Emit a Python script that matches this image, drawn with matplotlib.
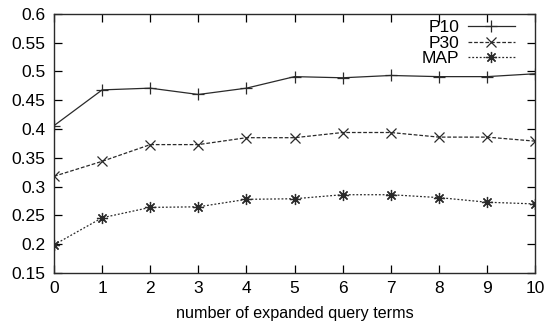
import matplotlib
matplotlib.use("Agg")
import matplotlib.pyplot as plt

plt.rcParams['font.family'] = ['Liberation Sans', 'DejaVu Sans']

terms = [0, 1, 2, 3, 4, 5, 6, 7, 8, 9, 10]
p10 = [0.406, 0.468, 0.471, 0.460, 0.471, 0.491, 0.489, 0.493, 0.491, 0.491, 0.496]
p30 = [0.318, 0.344, 0.373, 0.373, 0.385, 0.385, 0.394, 0.394, 0.386, 0.386, 0.379]
map_ = [0.199, 0.246, 0.264, 0.265, 0.278, 0.279, 0.286, 0.286, 0.281, 0.273, 0.270]
yticks = [0.15, 0.2, 0.25, 0.3, 0.35, 0.4, 0.45, 0.5, 0.55, 0.6]
ytick_labels = ['0.15', '0.2', '0.25', '0.3', '0.35', '0.4', '0.45', '0.5', '0.55', '0.6']


def main() -> None:
    fig = plt.figure(figsize=(5.46, 3.22), dpi=100)
    ax = fig.add_axes([0.099, 0.152, 0.881, 0.805])

    ax.plot(terms, p10, color='#2a2a2a', lw=0.9, marker='+', ms=9, mew=0.9, label='P10')
    ax.plot(terms, p30, color='#2a2a2a', lw=0.9, ls=(0, (3, 1.5)), marker='x', ms=7, mew=0.9, label='P30')
    ax.plot(terms, map_, color='#2a2a2a', lw=0.9, ls=(0, (1.5, 1.5)), marker=(8, 2, 0), ms=8, mew=0.9, label='MAP')

    ax.set_xlim(0, 10)
    ax.set_ylim(0.15, 0.6)
    ax.set_xticks(terms)
    ax.set_yticks(yticks)
    ax.set_yticklabels(ytick_labels)
    ax.tick_params(direction='in', top=True, right=True, length=6, width=0.9,
                   labelsize=12.5, pad=6)
    for s in ax.spines.values():
        s.set_linewidth(1.0)
        s.set_color('#2a2a2a')

    ax.set_xlabel('number of expanded query terms', fontsize=11.6, labelpad=7)

    leg = ax.legend(loc='upper right', frameon=False, markerfirst=False, fontsize=12.5,
                    handlelength=2.7, handletextpad=0.5, labelspacing=0.0,
                    borderaxespad=0, borderpad=0, bbox_to_anchor=(0.958, 0.975))
    for t in leg.get_texts():
        t.set_ha('right')

    fig.savefig('out.png', dpi=100)


if __name__ == "__main__":
    main()
